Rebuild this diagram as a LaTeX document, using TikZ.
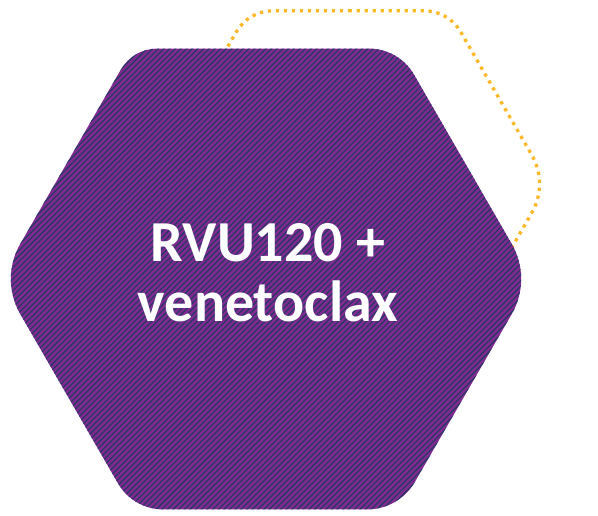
\documentclass[tikz,border=0pt]{standalone}
\usepackage{fontspec}
\setmainfont{Carlito}
\usetikzlibrary{calc}

\definecolor{hexpurple}{RGB}{126,42,144}
\definecolor{hexstripe}{RGB}{32,58,96}
\definecolor{outlineamber}{RGB}{251,184,41}

% Flat-topped hexagon with its own radius at each corner.
% #1 = vertex prefix, #2..#7 = radii at tl, tr, r, br, bl, l
\newcommand{\roundhex}[7]{%
  ($(#1-tl)!0.5!(#1-tr)$)
  -- ($(#1-tr)+(180:{0.57735*#3})$) arc[start angle=90,end angle=30,radius=#3]
  -- ($(#1-r)+(120:{0.57735*#4})$) arc[start angle=30,end angle=-30,radius=#4]
  -- ($(#1-br)+(60:{0.57735*#5})$) arc[start angle=-30,end angle=-90,radius=#5]
  -- ($(#1-bl)+(0:{0.57735*#6})$) arc[start angle=-90,end angle=-150,radius=#6]
  -- ($(#1-l)+(-60:{0.57735*#7})$) arc[start angle=-150,end angle=-210,radius=#7]
  -- ($(#1-tl)+(240:{0.57735*#2})$) arc[start angle=150,end angle=90,radius=#2]
  -- cycle}

\tikzset{
  dottedoutline/.style={draw=outlineamber, line width=3.3pt,
    dash pattern=on 3.3pt off 4.7pt},
  stripeline/.style={draw=hexstripe, line width=1.1pt},
  hextext/.style={text=white, inner sep=0pt, anchor=base,
    font=\fontsize{58}{62}\selectfont\bfseries},
}

\begin{document}
\begin{tikzpicture}[x=1pt,y=1pt]
  \useasboundingbox (0,0) rectangle (598,515);

  % vertices of the dotted hexagon behind
  \coordinate (oh-l)  at (148.5,331);
  \coordinate (oh-tl) at (248.5,504.2);
  \coordinate (oh-tr) at (448.5,504.2);
  \coordinate (oh-r)  at (548.5,331);
  \coordinate (oh-br) at (448.5,157.8);
  \coordinate (oh-bl) at (248.5,157.8);

  % vertices of the filled hexagon
  \coordinate (ph-l)  at (0,236);
  \coordinate (ph-tl) at (133,466.4);
  \coordinate (ph-tr) at (399,466.4);
  \coordinate (ph-r)  at (532,236);
  \coordinate (ph-br) at (399,5.6);
  \coordinate (ph-bl) at (133,5.6);

  % dotted outline
  \path[dottedoutline] \roundhex{oh}{42}{42}{58}{45}{45}{58};

  % striped purple hexagon
  \begin{scope}
    \clip \roundhex{ph}{42}{52}{70}{55}{52}{70};
    \fill[hexpurple] (0,0) rectangle (598,515);
    \foreach \k in {0,...,200}
      \path[stripeline] ({-540+\k*5.66},0) -- ++(45:780);
  \end{scope}

  % label
  \node[hextext] (lineone) at (268,253) {RVU120 +};
  \node[hextext] (linetwo) at (268,193) {venetoclax};
\end{tikzpicture}
\end{document}
